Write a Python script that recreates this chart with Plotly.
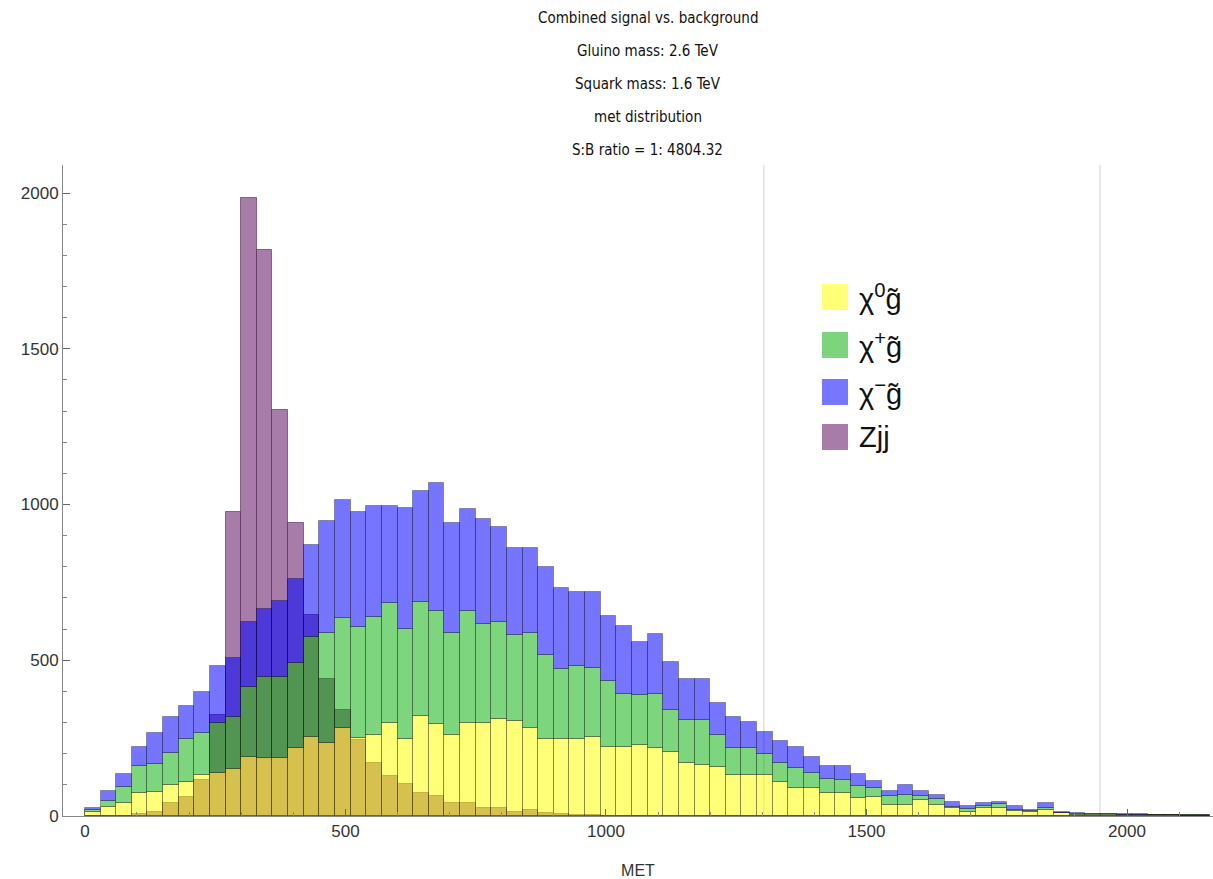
import numpy as np
import plotly.graph_objects as go

# ---------------- data ----------------
bin_width = 30
bin_left = list(range(0, 72 * 30, 30))          # MET bin lower edges

# cumulative heights (top of each coloured layer)
chi0_top = [12, 30, 43, 73, 78, 100, 110, 132, 137, 150, 190, 185, 185, 217, 255, 233, 281, 249,
            260, 300, 246, 321, 295, 260, 300, 300, 313, 306, 281, 246, 246, 246, 255, 220, 220, 227,
            217, 206, 171, 164, 156, 132, 132, 132, 110, 91, 91, 75, 75, 57, 62, 36, 36, 50,
            35, 27, 14, 27, 27, 16, 14, 19, 9, 4, 3, 3, 3, 3, 2, 2, 1, 1]
chiplus_top = [20, 49, 94, 160, 167, 201, 246, 267, 298, 319, 415, 445, 447, 490, 576, 589, 635, 608,
               640, 683, 599, 686, 659, 586, 659, 615, 624, 581, 586, 517, 471, 482, 474, 432, 392, 388,
               392, 340, 308, 308, 260, 217, 217, 199, 171, 155, 137, 118, 116, 96, 89, 63, 68, 64,
               53, 30, 22, 33, 39, 19, 17, 27, 11, 7, 5, 5, 4, 4, 3, 3, 2, 2]
chiminus_top = [26, 81, 135, 222, 265, 319, 353, 399, 481, 506, 624, 663, 691, 760, 870, 948, 1013, 977,
                995, 995, 988, 1044, 1068, 942, 985, 952, 929, 862, 862, 798, 731, 720, 720, 643, 609, 560,
                583, 493, 439, 439, 362, 317, 303, 269, 242, 223, 188, 162, 162, 135, 113, 81, 99, 81,
                67, 46, 33, 41, 46, 33, 19, 41, 14, 9, 6, 6, 5, 5, 4, 4, 3, 3]
zjj = [0, 0, 0, 8, 13, 41, 62, 116, 324, 976, 1983, 1817, 1303, 942, 645, 439, 340, 245,
       169, 128, 103, 75, 64, 41, 41, 25, 25, 14, 19, 11, 6, 3, 2, 1, 0, 0,
       0, 0, 0, 0, 0, 0, 0, 0, 0, 0, 0, 0, 0, 0, 0, 0, 0, 0,
       0, 0, 0, 0, 0, 0, 0, 0, 0, 0, 0, 0, 0, 0, 0, 0, 0, 0]

x_ticks = [0, 500, 1000, 1500, 2000]
y_ticks = [0, 500, 1000, 1500, 2000]
grid_x = [1303, 1948]

title_lines = ["Combined signal vs. background", "Gluino mass: 2.6 TeV",
               "Squark mass: 1.6 TeV", "met distribution", "S:B ratio = 1: 4804.32"]
legend_labels = ["\u03c7<sup>0</sup>g\u0303", "\u03c7<sup>+</sup>g\u0303",
                 "\u03c7<sup>\u2212</sup>g\u0303", "Zjj"]

# ---------------- derived ----------------
centers = np.array(bin_left) + bin_width / 2
y0 = np.array(chi0_top, dtype=float)
yp = np.array(chiplus_top, dtype=float) - y0
ym = np.array(chiminus_top, dtype=float) - np.array(chiplus_top, dtype=float)

YEL = "rgba(255,255,0,0.53)"
GRN = "rgba(0,172,0,0.51)"
BLU = "rgba(0,0,255,0.54)"
PUR = "rgb(168,124,168)"
edge = dict(color="rgba(0,0,0,0.30)", width=1)

fig = go.Figure()
fig.add_trace(go.Bar(x=centers, y=zjj, width=bin_width, marker=dict(color=PUR, line=dict(color="rgba(70,20,70,0.55)", width=1)),
                     name="Zjj", showlegend=False))
fig.add_trace(go.Bar(x=centers, y=y0, base=0, width=bin_width, marker=dict(color=YEL, line=edge),
                     name="chi0", showlegend=False))
fig.add_trace(go.Bar(x=centers, y=yp, base=y0, width=bin_width, marker=dict(color=GRN, line=edge),
                     name="chi+", showlegend=False))
fig.add_trace(go.Bar(x=centers, y=ym, base=y0 + yp, width=bin_width, marker=dict(color=BLU, line=edge),
                     name="chi-", showlegend=False))

shapes = []
for gx in grid_x:
    shapes.append(dict(type="line", xref="x", yref="paper", x0=gx, x1=gx, y0=0, y1=1,
                       line=dict(color="#d9d9d9", width=1.2), layer="below"))

# custom legend (large swatches)
L, T, W, H = 63, 165, 1150, 651
def px(xp):
    return (xp - L) / W
def py(yp_):
    return (T + H - yp_) / H

sw_cols = ["rgb(255,255,120)", "rgb(125,212,125)", "rgb(118,118,255)", PUR]
rows = [297, 345, 392, 437]
annotations = []
for lab, col, r in zip(legend_labels, sw_cols, rows):
    shapes.append(dict(type="rect", xref="paper", yref="paper", x0=px(822), x1=px(848),
                       y0=py(r + 13), y1=py(r - 13), fillcolor=col, line=dict(width=0)))
    annotations.append(dict(text=lab, xref="paper", yref="paper", x=px(857), y=py(r),
                            xanchor="left", yanchor="middle", showarrow=False,
                            font=dict(family="Liberation Sans, Arial, sans-serif", size=29, color="#111")))

for i, t in enumerate(title_lines):
    annotations.append(dict(text=t, xref="paper", yref="paper", x=px(648), y=py(18 + 33 * i),
                            xanchor="center", yanchor="middle", showarrow=False,
                            font=dict(family="Liberation Sans Narrow, DejaVu Sans Condensed, Arial, sans-serif",
                                      size=15, color="#111")))

tickfont = dict(family="Liberation Sans, Arial, sans-serif", size=17, color="#333")
fig.update_layout(
    width=1213, height=879,
    margin=dict(l=L, r=1213 - L - W, t=T, b=879 - T - H),
    paper_bgcolor="white", plot_bgcolor="white",
    barmode="overlay", bargap=0,
    shapes=shapes, annotations=annotations,
    xaxis=dict(range=[-42, 2165], tickvals=x_ticks, ticks="inside", ticklen=7, tickcolor="#666",
               minor=dict(ticks="inside", ticklen=4, tickcolor="#888", dtick=100, tick0=0),
               showline=True, linecolor="#888", linewidth=1, showgrid=False, zeroline=False,
               tickfont=tickfont,
               title=dict(text="MET", font=dict(family="Liberation Sans, Arial, sans-serif", size=16, color="#333"),
                          standoff=24)),
    yaxis=dict(range=[0, 2090], tickvals=y_ticks, ticks="inside", ticklen=7, tickcolor="#666",
               minor=dict(ticks="inside", ticklen=4, tickcolor="#888", dtick=100, tick0=0),
               showline=True, linecolor="#888", linewidth=1, showgrid=False, zeroline=False,
               tickfont=tickfont),
)

fig.write_html("out.html")
